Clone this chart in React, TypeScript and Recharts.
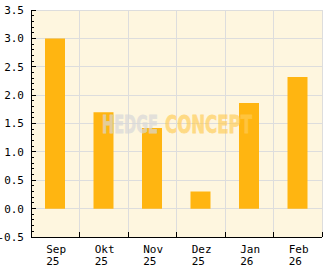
import { BarChart, Bar, XAxis, YAxis, CartesianGrid } from "recharts";

const months = ["Sep", "Okt", "Nov", "Dez", "Jan", "Feb"];
const years = ["25", "25", "25", "25", "26", "26"];
const values = [3.0, 1.7, 1.42, 0.3, 1.86, 2.32];
const yMajor = [-0.5, 0, 0.5, 1.0, 1.5, 2.0, 2.5, 3.0, 3.5];

// minor ticks every 0.1 between the major ones
const yMinor = Array.from({ length: 41 }, (_, i) => Math.round((-0.5 + i * 0.1) * 10) / 10);

const data = months.map((m, i) => ({ month: m, year: years[i], value: values[i] }));

const W = 332;
const H = 269;
const PLOT_LEFT = 31;
const PLOT_RIGHT = 322;
const PLOT_BOTTOM = 237;
const BAND = (PLOT_RIGHT - PLOT_LEFT) / months.length;
const FONT = "'DejaVu Sans Mono', monospace";

const YTick = (props: any) => {
  const { y, payload } = props;
  const v = payload.value;
  const major = yMajor.some((m) => Math.abs(m - v) < 1e-6);
  return (
    <g>
      <line x1={PLOT_LEFT} x2={PLOT_LEFT + (major ? 5 : 3)} y1={y} y2={y} stroke="#000" shapeRendering="crispEdges" />
      {major && (
        <text x={24} y={y} dy="0.36em" textAnchor="end" fontFamily={FONT} fontSize={11} fill="#000">
          {v.toFixed(1)}
        </text>
      )}
    </g>
  );
};

const XTick = (props: any) => {
  const { x, payload, index } = props;
  const right = x + BAND / 2;
  return (
    <g>
      <line x1={right} x2={right} y1={PLOT_BOTTOM - 5} y2={PLOT_BOTTOM} stroke="#000" shapeRendering="crispEdges" />
      <text x={x - 9} y={PLOT_BOTTOM + 16} fontFamily={FONT} fontSize={11} fill="#000">
        {payload.value}
      </text>
      <text x={x - 9} y={PLOT_BOTTOM + 28} fontFamily={FONT} fontSize={11} fill="#000">
        {years[index]}
      </text>
    </g>
  );
};

export default function App() {
  return (
    <div style={{ position: "absolute", left: 0, top: 0, width: W, height: H, background: "#fff" }}>
      <BarChart width={W} height={H} data={data} margin={{ top: 10, right: W - PLOT_RIGHT, bottom: 0, left: 0 }}>
        <CartesianGrid
          fill="#FEF6DF"
          stroke="#DDDDDD"
          shapeRendering="crispEdges"
          horizontalValues={yMajor}
          verticalCoordinatesGenerator={({ offset }: any) =>
            Array.from({ length: months.length }, (_, i) => offset.left + ((i + 1) * offset.width) / months.length)
          }
        />
        <XAxis
          dataKey="month"
          interval={0}
          height={H - PLOT_BOTTOM}
          tickLine={false}
          axisLine={{ stroke: "#000", shapeRendering: "crispEdges" }}
          tick={<XTick />}
        />
        <YAxis
          width={PLOT_LEFT}
          domain={[-0.5, 3.5]}
          ticks={yMinor}
          interval={0}
          tickLine={false}
          allowDataOverflow
          axisLine={{ stroke: "#000", shapeRendering: "crispEdges" }}
          tick={<YTick />}
        />
        <Bar dataKey="value" fill="#FFB511" barSize={20} isAnimationActive={false} />
      </BarChart>
      {/* watermark */}
      <svg width={W} height={H} style={{ position: "absolute", left: 0, top: 0, pointerEvents: "none" }}>
        <text
          x={102}
          y={133}
          fontFamily="'DejaVu Sans', sans-serif"
          fontWeight="bold"
          fontSize={25}
          textLength={56}
          lengthAdjust="spacingAndGlyphs"
          fill="#D8D8D8"
          stroke="#D8D8D8"
          strokeWidth={0.8}
          opacity={0.7}
        >
          HEDGE
        </text>
        <text
          x={165}
          y={133}
          fontFamily="'DejaVu Sans', sans-serif"
          fontWeight="bold"
          fontSize={25}
          textLength={87}
          lengthAdjust="spacingAndGlyphs"
          fill="#FFCC55"
          stroke="#FFCC55"
          strokeWidth={0.8}
          opacity={0.65}
        >
          CONCEPT
        </text>
      </svg>
    </div>
  );
}
